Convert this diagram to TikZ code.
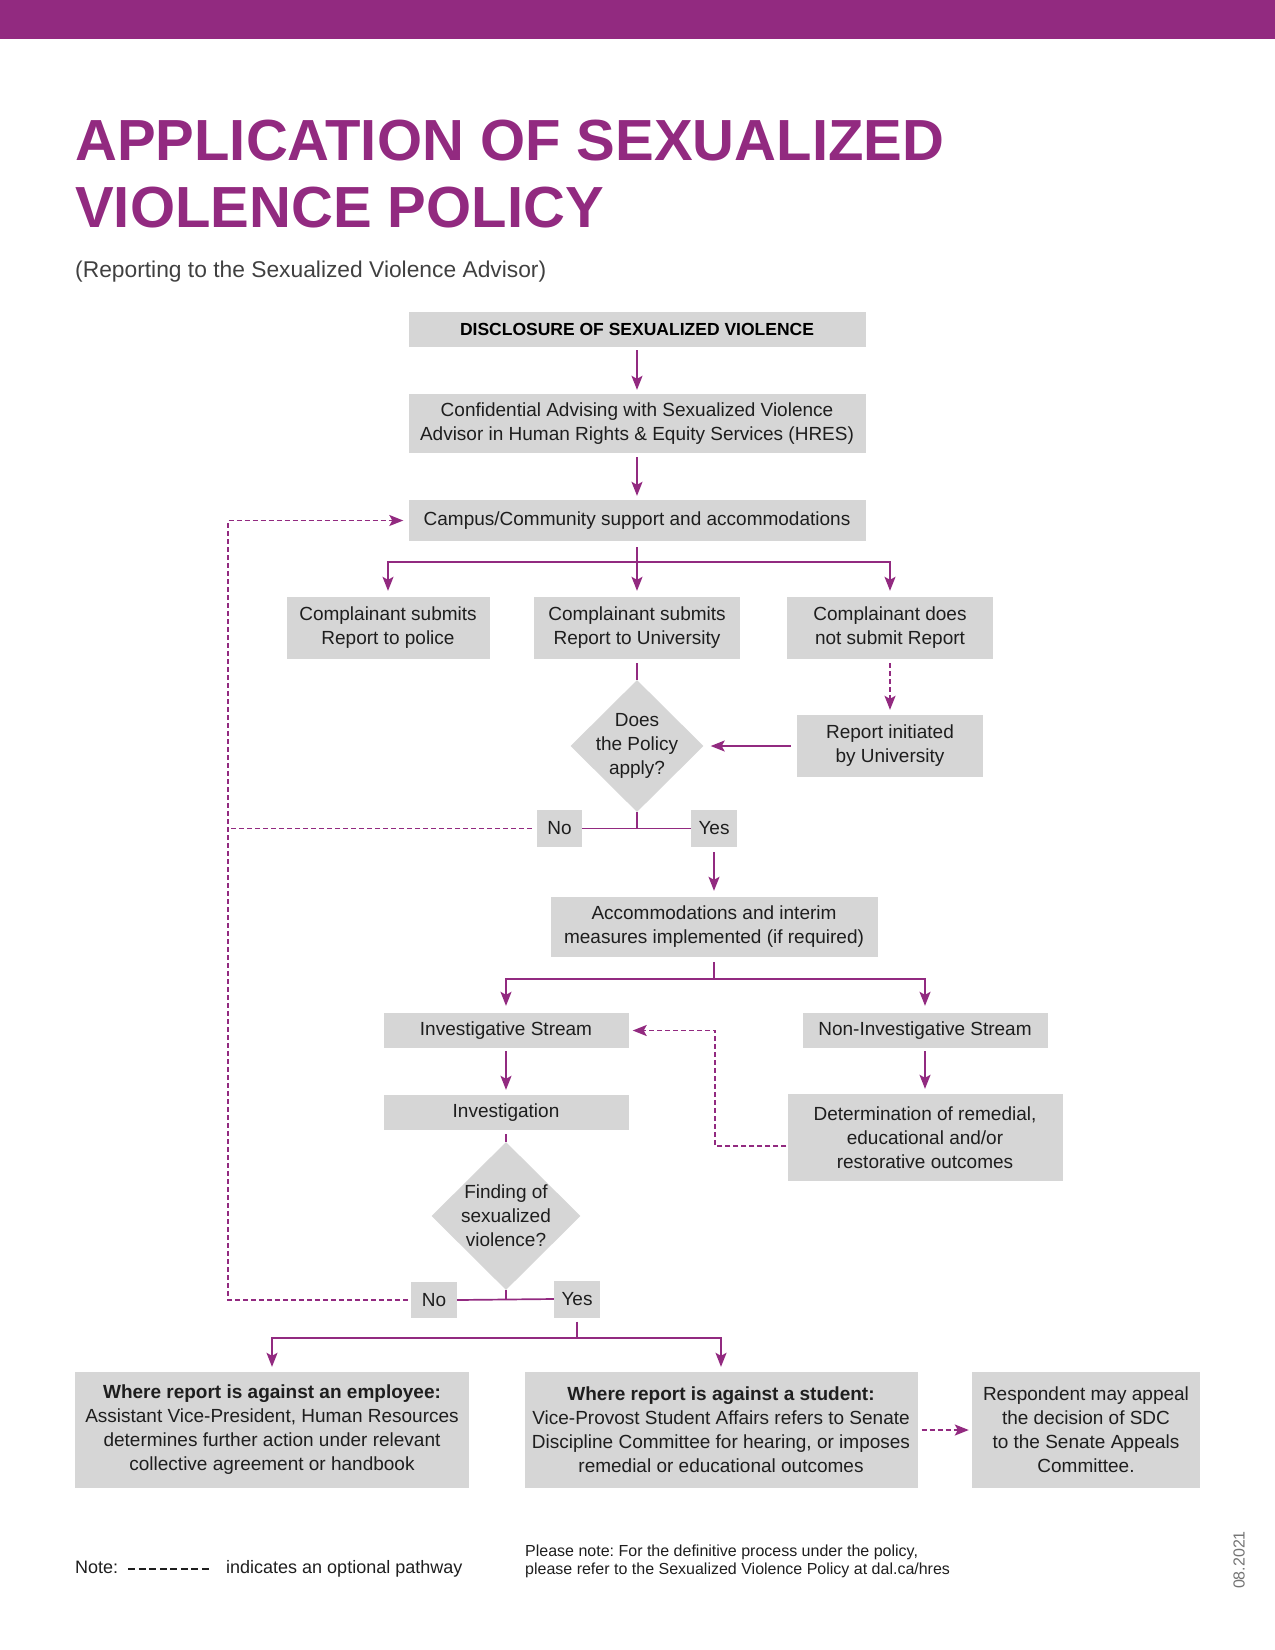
\documentclass[tikz,border=0pt]{standalone}
\usepackage{fontspec}
\setmainfont{Liberation Sans}
\usetikzlibrary{arrows.meta,shapes.geometric}
\frenchspacing

\definecolor{dalpurple}{RGB}{146,42,128}
\definecolor{boxgray}{RGB}{214,214,214}
\definecolor{inkgray}{RGB}{30,30,30}
\newcommand{\bodyfont}{\fontsize{19}{24}\selectfont}
\newcommand{\notefont}{\fontsize{18}{22}\selectfont}

\begin{document}
\begin{tikzpicture}[x=1pt, y=-1pt,
    box/.style={fill=boxgray, text=inkgray, inner sep=0pt, align=center, font=\bodyfont},
    decision/.style={diamond, fill=boxgray, inner sep=0pt},
    flowline/.style={draw=dalpurple, line width=1.7pt},
    flow/.style={flowline, -{Stealth[length=14pt,width=11pt,inset=3pt]}},
    optline/.style={flowline, dash pattern=on 5pt off 3pt},
    optflow/.style={flow, dash pattern=on 5pt off 3pt}]
\useasboundingbox (0,0) rectangle (1275,1650);
\fill[dalpurple] (0,0) rectangle (1275,39);

% HEADER
\node[anchor=base west, inner sep=0pt, text=dalpurple, font=\fontsize{58}{64}\selectfont\bfseries] (title1) at (75,160) {APPLICATION OF SEXUALIZED};
\node[anchor=base west, inner sep=0pt, text=dalpurple, font=\fontsize{58}{64}\selectfont\bfseries] (title2) at (75,227) {VIOLENCE POLICY};
\node[anchor=base west, inner sep=0pt, text=inkgray!85, font=\fontsize{22.8}{26}\selectfont] (subtitle) at (75,277) {(Reporting to the Sexualized Violence Advisor)};

% TOP OF THE FLOW
\node[box, minimum width=457pt, minimum height=35pt, text=black, font=\fontsize{17.5}{21}\selectfont\bfseries] (disclosure) at (637,329.5) {DISCLOSURE OF SEXUALIZED VIOLENCE};
\node[box, minimum width=457pt, minimum height=59pt] (confidential) at (637,423.5) {Confidential Advising with Sexualized Violence\\Advisor in Human Rights \& Equity Services (HRES)};
\node[box, minimum width=457pt, minimum height=41pt] (campus) at (637,520.5) {Campus/Community support and accommodations};
\draw[flow, shorten <=3pt, shorten >=4pt] (disclosure) -- (confidential);
\draw[flow, shorten <=4pt, shorten >=4pt] (confidential) -- (campus);

% THREE WAYS TO REPORT
\node[box, minimum width=203pt, minimum height=62pt] (police) at (388,628) {Complainant submits\\Report to police};
\node[box, minimum width=206pt, minimum height=62pt] (univ) at (637,628) {Complainant submits\\Report to University};
\node[box, minimum width=206pt, minimum height=62pt] (notsubmit) at (890,628) {Complainant does\\not submit Report};
\coordinate (split1) at (637,562);
\draw[flowline, shorten <=6pt] (campus.south) -- (split1);
\draw[flow] (split1) -| ([yshift=6pt]police.north);
\draw[flow] (split1) -- ([yshift=6pt]univ.north);
\draw[flow] (split1) -| ([yshift=6pt]notsubmit.north);

% DOES THE POLICY APPLY
\node[decision, minimum width=133pt, minimum height=132pt] (policy) at (637,746) {};
\node[box, fill=none] (policytext) at (policy) {Does\\the Policy\\apply?};
\node[box, minimum width=186pt, minimum height=62pt] (initiated) at (890,746) {Report initiated\\by University};
\draw[flowline, shorten <=4pt] (univ.south) -- (policy.north);
\draw[optflow, shorten <=4pt, shorten >=5pt] (notsubmit.south) -- (initiated.north);
\draw[flow, shorten <=6pt, shorten >=7pt] (initiated.west) -- (policy.east);

\node[box, minimum width=45pt, minimum height=37pt] (no1) at (559.5,828.5) {No};
\node[box, minimum width=46pt, minimum height=37pt] (yes1) at (714,828.5) {Yes};
\coordinate (split2) at (637,828.5);
\draw[flowline] (policy.south) -- (split2);
\draw[flowline] (no1.east) -- (yes1.west);

% OPTIONAL PATH BACK TO SUPPORT
\coordinate (loop) at (228,520.5);
\draw[optline, shorten <=5pt] (no1.west) -- (no1.west -| loop);

% INTERIM MEASURES AND STREAMS
\node[box, minimum width=327pt, minimum height=60pt] (accom) at (714,927) {Accommodations and interim\\measures implemented (if required)};
\draw[flow, shorten <=5pt, shorten >=6pt] (yes1.south) -- (accom.north);
\node[box, minimum width=245pt, minimum height=35pt] (invstream) at (506,1030.5) {Investigative Stream};
\node[box, minimum width=245pt, minimum height=35pt] (noninv) at (925,1030.5) {Non-Investigative Stream};
\coordinate (split3) at (714,979);
\draw[flowline, shorten <=5pt] (accom.south) -- (split3);
\draw[flow] (split3) -| ([yshift=7pt]invstream.north);
\draw[flow] (split3) -| ([yshift=7pt]noninv.north);

\node[box, minimum width=245pt, minimum height=35pt] (investigation) at (506,1112.5) {Investigation};
\node[box, minimum width=275pt, minimum height=87pt] (determination) at (925,1137.5) {Determination of remedial,\\educational and/or\\restorative outcomes};
\draw[flow, shorten <=3pt, shorten >=5pt] (invstream) -- (investigation);
\draw[flow, shorten <=3pt, shorten >=5pt] (noninv) -- (determination);
\draw[optflow] ([xshift=-1pt,yshift=-8.5pt]determination.west) -- ++(-71,0) |- ([xshift=4pt]invstream.east);

% FINDING
\node[decision, minimum width=149pt, minimum height=148pt] (finding) at (506,1216) {};
\node[box, fill=none] (findingtext) at (finding) {Finding of\\sexualized\\violence?};
\draw[flowline, shorten <=4pt] (investigation.south) -- (finding.north);
\node[box, minimum width=46pt, minimum height=36pt] (no2) at (434,1300) {No};
\node[box, minimum width=46pt, minimum height=37pt] (yes2) at (577,1299) {Yes};
\coordinate (split5) at (506,1300);
\draw[flowline] (finding.south) -- (split5);
\draw[flowline] (no2.east) -- (yes2.west);
\draw[optflow, shorten <=3pt] (no2.west) -| (loop) -- ([xshift=-5pt]campus.west);

% OUTCOMES
\node[box, minimum width=394pt, minimum height=116pt] (employee) at (272,1430) {\textbf{Where report is against an employee:}\\Assistant Vice-President, Human Resources\\determines further action under relevant\\collective agreement or handbook};
\node[box, minimum width=393pt, minimum height=116pt] (student) at (721,1430) {\textbf{Where report is against a student:}\\Vice-Provost Student Affairs refers to Senate\\Discipline Committee for hearing, or imposes\\remedial or educational outcomes};
\node[box, minimum width=228pt, minimum height=116pt] (respondent) at (1086,1430) {Respondent may appeal\\the decision of SDC\\to the Senate Appeals\\Committee.};
\coordinate (split4) at (577,1338);
\draw[flowline, shorten <=4pt] (yes2.south) -- (split4);
\draw[flow] (split4) -| ([yshift=5pt]employee.north);
\draw[flow] (split4) -| ([yshift=5pt]student.north);
\draw[optflow, shorten <=4pt, shorten >=3pt] (student.east) -- (respondent.west);

% FOOTER
\node[anchor=base west, inner sep=0pt, text=inkgray, font=\notefont] (note) at (75,1573) {Note:};
\node[anchor=base west, inner sep=0pt, text=inkgray, font=\notefont] (notetext) at (226,1573) {indicates an optional pathway};
\draw[inkgray, line width=2pt, dash pattern=on 7pt off 3.5pt] ([xshift=10pt,yshift=4pt]note.base east) -- ([xshift=-14pt,yshift=4pt]notetext.base west);
\node[anchor=west, inner sep=0pt, align=left, text=inkgray, font=\fontsize{16}{18}\selectfont] (refnote) at (525,1561) {Please note: For the definitive process under the policy,\\please refer to the Sexualized Violence Policy at dal.ca/hres};
\node[rotate=90, inner sep=0pt, text=black!55, font=\fontsize{16}{18}\selectfont] (stamp) at (1239,1560) {08.2021};
\end{tikzpicture}
\end{document}
